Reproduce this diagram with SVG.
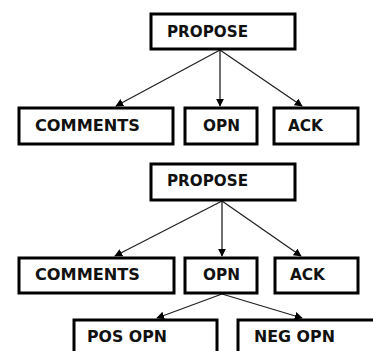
<svg xmlns="http://www.w3.org/2000/svg" width="373" height="351" viewBox="0 0 373 351">
<style>
.box{fill:#fff;stroke:#000;stroke-width:3}
.lbl{font-family:"DejaVu Sans","Liberation Sans",sans-serif;font-weight:bold;font-size:15.5px;fill:#111}
.con{stroke:#222;stroke-width:1.3;fill:none;marker-end:url(#ah)}
</style>
<defs>
<marker id="ah" viewBox="0 0 10 10" refX="9" refY="5" markerWidth="8" markerHeight="8" markerUnits="userSpaceOnUse" orient="auto">
<path d="M0,0 L10,5 L0,10 z" fill="#000"/>
</marker>
</defs>
<rect width="373" height="351" fill="#fff"/>
<g id="connectors">
<line class="con" x1="220" y1="50" x2="116" y2="106"/>
<line class="con" x1="220" y1="50" x2="220" y2="106"/>
<line class="con" x1="220" y1="50" x2="302" y2="106"/>
<line class="con" x1="222" y1="201" x2="115" y2="256"/>
<line class="con" x1="222" y1="201" x2="222" y2="256"/>
<line class="con" x1="222" y1="201" x2="301" y2="256"/>
<line class="con" x1="222" y1="294" x2="157" y2="318"/>
<line class="con" x1="222" y1="294" x2="302" y2="318"/>
</g>
<g id="propose1"><rect class="box" x="151" y="14" width="144" height="35"/><text class="lbl" x="167" y="37" textLength="81" lengthAdjust="spacingAndGlyphs">PROPOSE</text></g>
<g id="comments1"><rect class="box" x="19" y="108" width="154" height="36"/><text class="lbl" x="35" y="130.5" textLength="105" lengthAdjust="spacingAndGlyphs">COMMENTS</text></g>
<g id="opn1"><rect class="box" x="185" y="108" width="72" height="36"/><text class="lbl" x="203" y="130.5" textLength="37" lengthAdjust="spacingAndGlyphs">OPN</text></g>
<g id="ack1"><rect class="box" x="274" y="108" width="84" height="36"/><text class="lbl" x="288" y="130.5" textLength="35" lengthAdjust="spacingAndGlyphs">ACK</text></g>
<g id="propose2"><rect class="box" x="151" y="164" width="144" height="36"/><text class="lbl" x="167" y="186" textLength="81" lengthAdjust="spacingAndGlyphs">PROPOSE</text></g>
<g id="comments2"><rect class="box" x="19" y="258" width="155" height="35"/><text class="lbl" x="35" y="280" textLength="105" lengthAdjust="spacingAndGlyphs">COMMENTS</text></g>
<g id="opn2"><rect class="box" x="185" y="258" width="72" height="35"/><text class="lbl" x="203" y="280" textLength="37" lengthAdjust="spacingAndGlyphs">OPN</text></g>
<g id="ack2"><rect class="box" x="275" y="258" width="83" height="35"/><text class="lbl" x="290" y="280" textLength="35" lengthAdjust="spacingAndGlyphs">ACK</text></g>
<g id="posopn"><rect class="box" x="74" y="320" width="143" height="40"/><text class="lbl" x="87" y="342" textLength="80" lengthAdjust="spacingAndGlyphs">POS OPN</text></g>
<g id="negopn"><rect class="box" x="238" y="320" width="140" height="40"/><text class="lbl" x="254" y="342" textLength="81" lengthAdjust="spacingAndGlyphs">NEG OPN</text></g>
</svg>
